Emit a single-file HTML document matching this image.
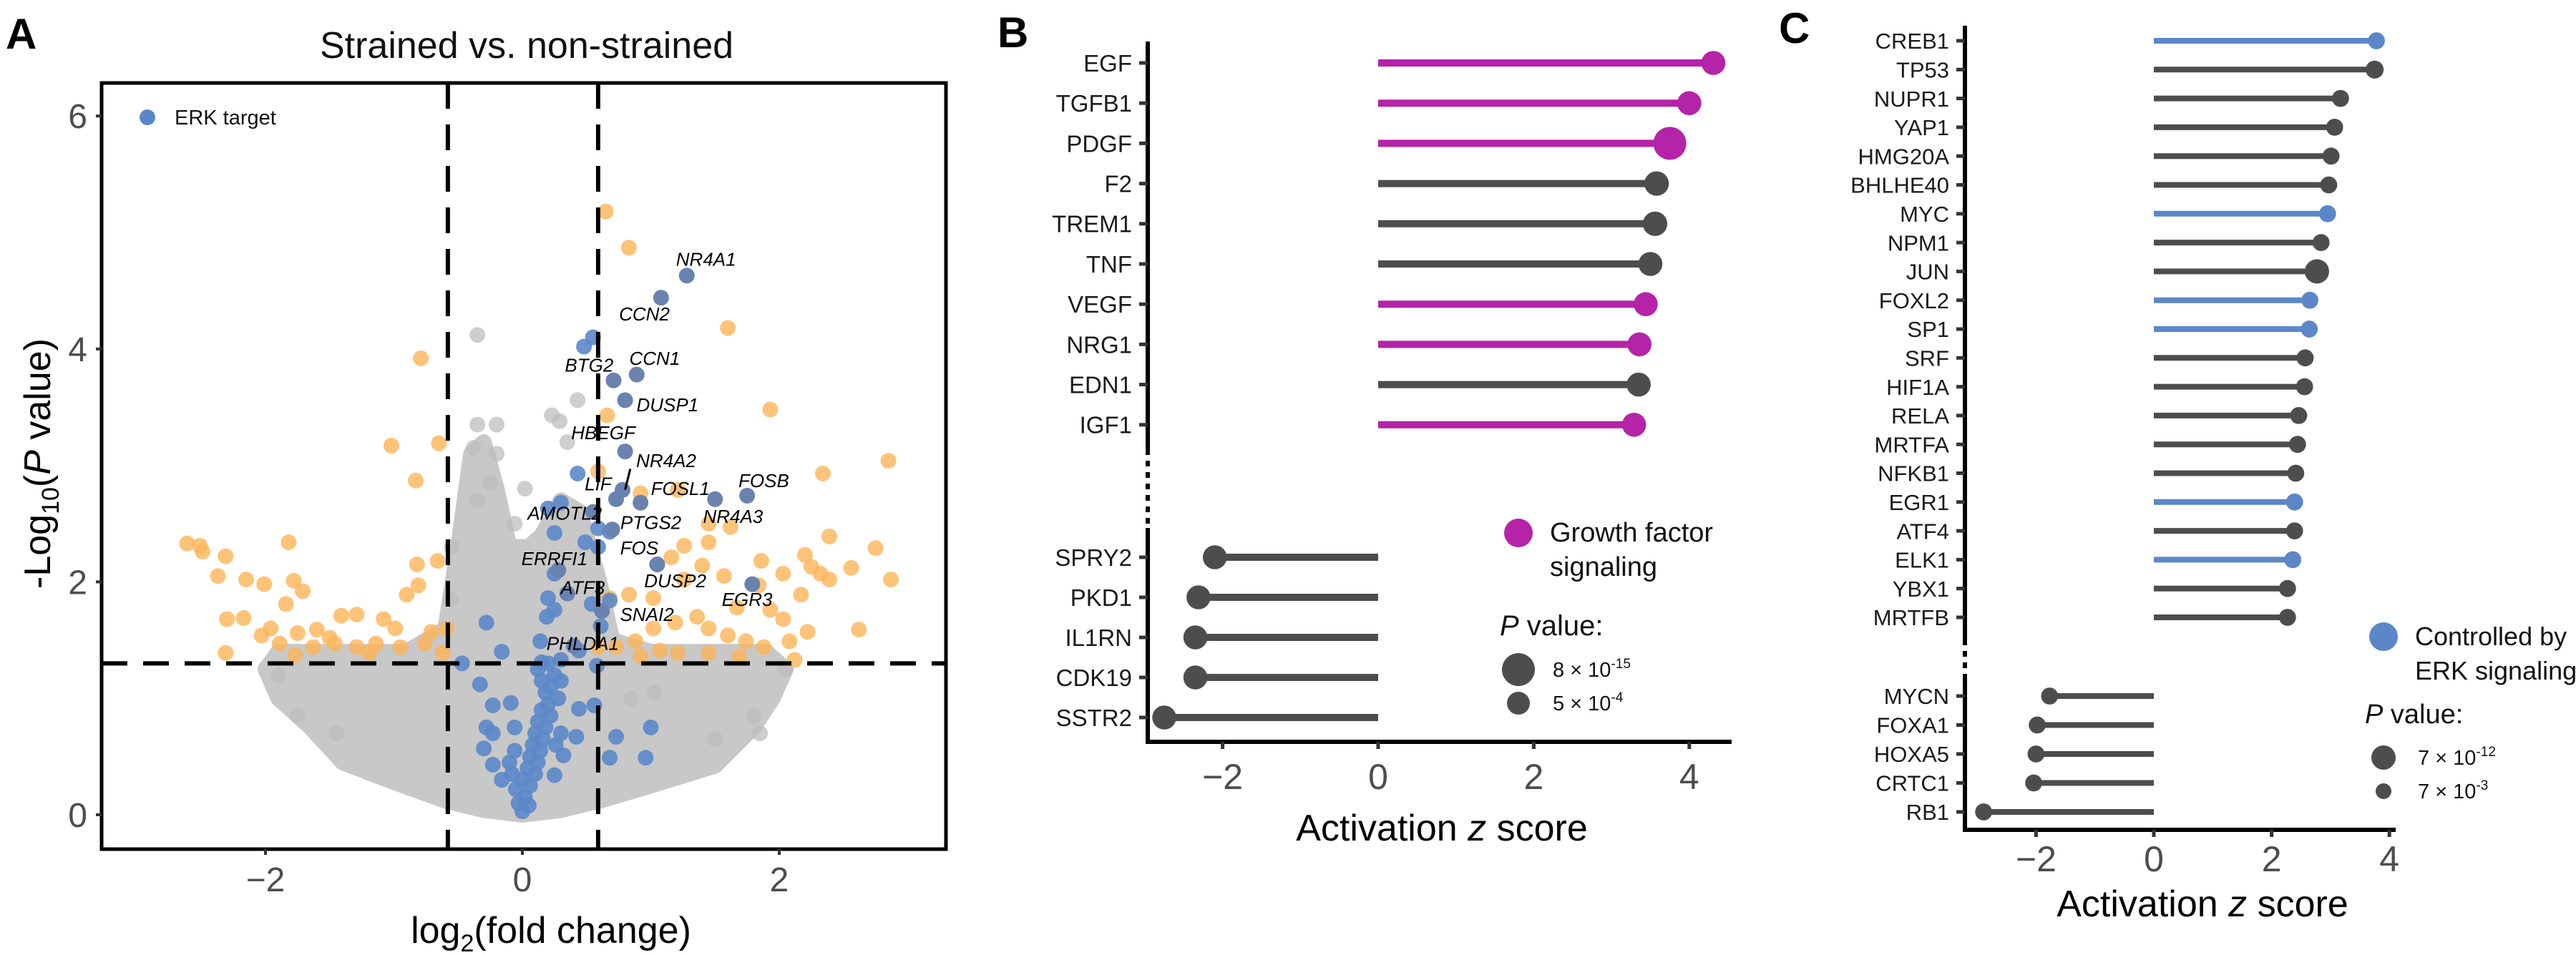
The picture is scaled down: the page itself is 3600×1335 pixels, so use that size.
<!DOCTYPE html>
<html><head><meta charset="utf-8"><style>
html,body{margin:0;padding:0;background:#fff;}
svg{display:block;font-family:"Liberation Sans",Arial,sans-serif;}
</style></head><body>
<svg id="fig" width="3600" height="1335" viewBox="0 0 3600 1335" xmlns="http://www.w3.org/2000/svg">
<g id="pa"></g>
<g id="pb"></g>
<g id="pc"></g>
</svg>
<script>
// ===== Panel A data =====
const aXTicks = [-2, 0, 2];
const aYTicks = [0, 2, 4, 6];
const aThreshX = [-0.58, 0.59];
const aThreshY = [1.3];
const greyCloudX = [-2.0,-1.9,-1.65,-1.4,-1.0,-0.6,-0.3,0,0.3,0.6,1.0,1.5,1.8,1.95,2.05,1.9,1.0,0.7,0.6,0.45,0.3,0.15,0.05,-0.1,-0.2,-0.3,-0.4,-0.5,-0.6,-0.9,-1.9];
const greyCloudY = [1.25,1.0,0.75,0.45,0.28,0.12,0.04,0.0,0.04,0.12,0.25,0.42,0.75,1.0,1.25,1.4,1.4,1.5,2.0,2.6,2.7,2.4,2.3,2.3,2.8,3.2,3.1,2.3,1.6,1.4,1.4];
const greyX = [-0.35,0.43,0.23,0.29,-0.2,-0.35,0.35,-0.38,-0.2,-0.25,0.27,-0.35,0.02,-0.06,0.85,1.85,1.03,-1.75,-1.45,1.5,-0.56,-0.55,2.05,-1.9,1.8];
const greyY = [4.12,3.56,3.43,3.38,3.35,3.35,3.2,3.15,3.1,2.85,2.6,2.7,2.8,2.5,1.0,0.7,1.05,0.85,0.7,0.65,1.85,2.3,1.25,1.2,0.85];
const orangeX = [0.65,0.83,1.60,-0.79,1.93,0.66,-1.02,-0.65,2.85,0.59,2.34,-0.83,0.92,1.21,1.45,1.62,1.45,2.39,2.75,2.2,1.86,1.26,1.16,1.40,2.25,2.32,2.56,2.87,2.39,2.03,1.57,1.84,1.26,1.02,0.83,0.68,2.17,1.93,2.03,1.67,1.36,1.19,1.02,0.88,0.73,1.45,1.60,1.74,1.88,2.08,2.22,2.62,2.12,1.21,1.07,1.69,1.45,0.92,0.59,
 -2.61,-2.51,-2.49,-2.31,-1.82,-2.37,-2.15,-2.01,-1.78,-1.71,-1.84,-2.30,-2.17,-1.41,-1.29,-1.08,-0.90,-0.81,-0.82,-0.66,-0.99,-0.71,-0.59,-1.96,-1.75,-1.60,-1.50,-1.89,-2.03,-2.31,-1.77,-1.63,-1.46,-1.29,-1.14,-0.95,-0.76,-1.19,-0.62];
const orangeY = [5.18,4.87,4.18,3.92,3.48,3.43,3.17,3.19,3.04,2.95,2.93,2.87,2.76,2.79,2.50,2.47,2.34,2.39,2.29,2.23,2.18,2.31,2.21,2.14,2.13,2.07,2.12,2.02,2.02,2.07,2.05,1.97,2.02,1.86,1.89,1.86,1.89,1.76,1.68,1.78,1.70,1.65,1.60,1.49,1.44,1.60,1.54,1.49,1.44,1.49,1.57,1.59,1.33,1.39,1.41,1.36,1.39,1.36,1.44,
 2.33,2.31,2.26,2.22,2.34,2.05,2.02,1.98,2.01,1.92,1.81,1.68,1.69,1.71,1.72,1.68,1.89,1.97,2.15,2.18,1.60,1.57,1.60,1.60,1.56,1.59,1.52,1.47,1.54,1.39,1.37,1.44,1.47,1.44,1.47,1.44,1.47,1.39,1.39];
const blueX = [0.55,0.48,0.43,0.30,0.20,0.59,0.68,0.25,0.49,0.59,0.25,0.68,0.54,0.20,0.25,0.19,0.61,-0.28,0.14,-0.16,-0.47,0.44,0.30,0.15,0.58,
 -0.33,-0.23,-0.09,0.44,0.56,-0.28,-0.06,-0.23,0.30,0.42,0.73,1.0,0.68,0.96,-0.30,0.32,-0.23,0.25,-0.16,
 0.12,0.15,0.18,0.2,0.15,0.22,0.12,0.18,0.1,0.16,0.08,0.14,0.06,0.12,0.04,0.1,0.0,0.06,-0.05,0.02,-0.03,0.05,0.0,-0.08,-0.1,0.25,0.22,0.28,0.3,0.2,-0.06,0.26];
const blueY = [4.10,4.02,2.93,2.68,2.63,2.46,2.43,2.42,2.34,2.30,2.07,1.84,1.81,1.86,1.76,1.70,1.62,1.65,1.49,1.40,1.30,1.41,1.33,1.31,1.28,
 1.12,0.94,0.96,0.91,0.94,0.75,0.75,0.70,0.70,0.67,0.67,0.75,0.49,0.49,0.57,0.51,0.43,0.34,0.30,
 1.25,1.15,1.05,0.95,0.9,0.85,0.8,0.75,0.7,0.65,0.6,0.55,0.5,0.45,0.4,0.35,0.3,0.25,0.22,0.15,0.1,0.08,0.03,0.35,0.45,1.2,1.1,1.0,1.15,1.3,0.55,0.6];
const labGenes = ["NR4A1","CCN2","BTG2","CCN1","DUSP1","HBEGF","NR4A2","LIF","FOSL1","FOSB","AMOTL2","PTGS2","NR4A3","FOS","ERRFI1","DUSP2","ATF3","EGR3","SNAI2","PHLDA1"];
const labPtX = [1.28,1.08,0.71,0.89,0.80,0.80,0.78,0.73,0.92,1.75,0.55,0.70,1.50,1.05,0.28,1.05,0.35,1.79,0.62,0.40];
const labPtY = [4.63,4.44,3.73,3.78,3.56,3.12,2.79,2.71,2.68,2.74,2.60,2.45,2.71,2.15,2.10,2.15,1.90,1.98,1.75,1.45];
const labX = [1.43,0.95,0.52,1.03,1.13,0.63,1.12,0.59,1.23,1.88,0.33,1.0,1.64,0.91,0.25,1.19,0.47,1.75,0.97,0.47];
const labY = [4.77,4.30,3.86,3.92,3.52,3.28,3.04,2.84,2.80,2.87,2.59,2.51,2.56,2.29,2.20,2.01,1.95,1.85,1.72,1.47];

// ===== Panel B data =====
const bUpGenes = ["EGF","TGFB1","PDGF","F2","TREM1","TNF","VEGF","NRG1","EDN1","IGF1"];
const bUpZ = [4.31,4.0,3.75,3.58,3.56,3.5,3.44,3.36,3.35,3.29];
const bUpLogP = [4.5,4.5,14.1,5,5,4.5,4.5,4.5,4.5,4.5];
const bUpGF = [1,1,1,0,0,0,1,1,0,1];
const bDnGenes = ["SPRY2","PKD1","IL1RN","CDK19","SSTR2"];
const bDnZ = [-2.1,-2.31,-2.35,-2.35,-2.75];
const bDnLogP = [4.5,4.5,4.5,4.5,4.5];
const bXTicks = [-2,0,2,4];
const bLegP = ["8 × 10", "5 × 10"], bLegExp = ["-15","-4"], bLegLogP = [14.1, 3.3];

// ===== Panel C data =====
const cUpGenes = ["CREB1","TP53","NUPR1","YAP1","HMG20A","BHLHE40","MYC","NPM1","JUN","FOXL2","SP1","SRF","HIF1A","RELA","MRTFA","NFKB1","EGR1","ATF4","ELK1","YBX1","MRTFB"];
const cUpZ = [3.78,3.75,3.17,3.07,3.01,2.97,2.95,2.84,2.77,2.65,2.64,2.57,2.56,2.46,2.44,2.41,2.39,2.39,2.36,2.27,2.27];
const cUpLogP = [3.5,4.5,3.5,3.5,3.5,3.5,3.5,3.5,11.15,3.5,3.5,3.5,3.5,3.5,3.5,3.5,3.5,3.5,3.5,3.5,3.5];
const cUpERK = [1,0,0,0,0,0,1,0,0,1,1,0,0,0,0,0,1,0,1,0,0];
const cDnGenes = ["MYCN","FOXA1","HOXA5","CRTC1","RB1"];
const cDnZ = [-1.77,-1.98,-2.0,-2.04,-2.89];
const cDnLogP = [3.5,3.5,3.5,3.5,3.5];
const cXTicks = [-2,0,2,4];
const cLegP = ["7 × 10","7 × 10"], cLegExp = ["-12","-3"], cLegLogP = [11.15, 2.15];

const NS="http://www.w3.org/2000/svg";
function mk(parent, tag, attrs, text){
  const e=document.createElementNS(NS,tag);
  for(const k in attrs) e.setAttribute(k,attrs[k]);
  if(text!==undefined) e.textContent=text;
  parent.appendChild(e); return e;
}
const GREY="#4d4d4d", MAG="#b523a8", BLUE="#5b87c9";

// ===== Panel A =====
(function(){
  const g=document.getElementById('pa');
  const L=142,R=1322,T=116,B=1187;
  const xs=v=>730+v*179.5, ys=v=>1139-v*162.8;
  let t;
  t=mk(g,'text',{x:8,y:68,'font-size':60,'font-weight':'bold',fill:'#000'},'A');
  
  t=mk(g,'text',{x:736,y:81,'font-size':52,'text-anchor':'middle',fill:'#111'},'Strained vs. non-strained');
  
  const clip=mk(g,'clipPath',{id:'clipA'}); mk(clip,'rect',{x:L,y:T,width:R-L,height:B-T});
  const pg=mk(g,'g',{'clip-path':'url(#clipA)'});
  
  const pts=greyCloudX.map((v,i)=>xs(v)+','+ys(greyCloudY[i])).join(' ');
  t=mk(pg,'polygon',{points:pts,fill:'#c8c8c8',stroke:'#c8c8c8','stroke-width':22,'stroke-linejoin':'round'});
  
  greyX.forEach((v,i)=>{const c=mk(pg,'circle',{cx:xs(v),cy:ys(greyY[i]),r:11,fill:'#bdbdbd','fill-opacity':0.75});
    });
  orangeX.forEach((v,i)=>{const c=mk(pg,'circle',{cx:xs(v),cy:ys(orangeY[i]),r:11,fill:'#fdb457','fill-opacity':0.8});
    });
  blueX.forEach((v,i)=>{const c=mk(pg,'circle',{cx:xs(v),cy:ys(blueY[i]),r:11,fill:BLUE,'fill-opacity':0.9});
    });
  labPtX.forEach((v,i)=>{const c=mk(pg,'circle',{cx:xs(v),cy:ys(labPtY[i]),r:11,fill:'#6a82b0'});
    });
  aThreshX.forEach(v=>{const l=mk(pg,'line',{x1:xs(v),x2:xs(v),y1:T,y2:B,stroke:'#000','stroke-width':6,'stroke-dasharray':'36,22'});
    });
  aThreshY.forEach(v=>{const l=mk(pg,'line',{x1:L,x2:R,y1:ys(v),y2:ys(v),stroke:'#000','stroke-width':6,'stroke-dasharray':'36,22'});
    });
  const l2=mk(pg,'line',{x1:xs(0.80),y1:ys(2.79),x2:xs(0.84),y2:ys(2.97),stroke:'#000','stroke-width':3});
  
  labGenes.forEach((s,i)=>{const tx=mk(pg,'text',{x:xs(labX[i]),y:ys(labY[i])+9,'font-size':26,'font-style':'italic','text-anchor':'middle',fill:'#000'},s);
    });
  t=mk(g,'rect',{x:L,y:T,width:R-L,height:B-T,fill:'none',stroke:'#000','stroke-width':5});
  
  aXTicks.forEach(v=>{mk(g,'line',{x1:xs(v),x2:xs(v),y1:B,y2:B+8,stroke:'#333','stroke-width':4});
    const tx=mk(g,'text',{x:xs(v),y:1246,'font-size':48,'text-anchor':'middle',fill:GREY},v<0?'−'+(-v):String(v));
    });
  aYTicks.forEach(v=>{mk(g,'line',{x1:L-8,x2:L,y1:ys(v),y2:ys(v),stroke:'#333','stroke-width':4});
    const tx=mk(g,'text',{x:122,y:ys(v)+17,'font-size':48,'text-anchor':'end',fill:GREY},String(v));
    });
  t=mk(g,'text',{x:770,y:1318,'font-size':52,'text-anchor':'middle',fill:'#000'});
  t.innerHTML='log<tspan font-size="34" dy="12">2</tspan><tspan dy="-12">(fold change)</tspan>';
  
  t=mk(g,'text',{x:0,y:0,'font-size':52,'text-anchor':'middle',fill:'#000',transform:'translate(70,648) rotate(-90)'});
  t.innerHTML='-Log<tspan font-size="34" dy="12">10</tspan><tspan dy="-12">(</tspan><tspan font-style="italic">P</tspan> value)';
  
  const lg=mk(g,'g',{});
  mk(lg,'circle',{cx:206,cy:164,r:11,fill:BLUE});
  mk(lg,'text',{x:244,y:174,'font-size':29,fill:'#111'},'ERK target');
})();

// ===== Lollipop helper =====
function lollipop(g, cfg){
  const xs=v=>cfg.x0+v*cfg.unit;
  let t=mk(g,'text',{x:cfg.labX,y:cfg.labY,'font-size':60,'font-weight':'bold',fill:'#000'},cfg.letter);
  
  t=mk(g,'line',{x1:cfg.ax,x2:cfg.ax,y1:cfg.a1,y2:cfg.a2,stroke:'#000','stroke-width':6});
  
  t=mk(g,'line',{x1:cfg.ax,x2:cfg.ax,y1:cfg.a2,y2:cfg.a3,stroke:'#000','stroke-width':6,'stroke-dasharray':'8,8'});
  
  t=mk(g,'line',{x1:cfg.ax,x2:cfg.ax,y1:cfg.a3,y2:cfg.xb+3,stroke:'#000','stroke-width':6});
  
  t=mk(g,'line',{x1:cfg.ax-3,x2:cfg.xr,y1:cfg.xb,y2:cfg.xb,stroke:'#000','stroke-width':6});
  
  const rows=[];
  cfg.up.forEach((s,i)=>rows.push({s,z:cfg.upZ[i],p:cfg.upP[i],c:cfg.upC[i],y:cfg.y0+i*cfg.dy}));
  cfg.dn.forEach((s,i)=>rows.push({s,z:cfg.dnZ[i],p:cfg.dnP[i],c:0,y:cfg.y1+i*cfg.dy2}));
  rows.forEach(r=>{
    const col=r.c?cfg.hl:GREY;
    mk(g,'line',{x1:cfg.ax-12,x2:cfg.ax,y1:r.y,y2:r.y,stroke:'#333','stroke-width':5});
    const lb=mk(g,'text',{x:cfg.ax-22,y:r.y+cfg.fs*0.36,'font-size':cfg.fs,'text-anchor':'end',fill:'#1a1a1a'},r.s);
    
    const ln=mk(g,'line',{x1:xs(0),x2:xs(r.z),y1:r.y,y2:r.y,stroke:col,'stroke-width':cfg.lw});
    
    const c=mk(g,'circle',{cx:xs(r.z),cy:r.y,r:cfg.rad(r.p),fill:col});
    
  });
  cfg.ticks.forEach(v=>{mk(g,'line',{x1:xs(v),x2:xs(v),y1:cfg.xb,y2:cfg.xb+10,stroke:'#333','stroke-width':5});
    const tx=mk(g,'text',{x:xs(v),y:cfg.tickY,'font-size':50,'text-anchor':'middle',fill:GREY},v<0?'−'+(-v):String(v));
    });
  t=mk(g,'text',{x:cfg.titleX,y:cfg.titleY,'font-size':52,'text-anchor':'middle',fill:'#000'});
  t.innerHTML='Activation <tspan font-style="italic">z</tspan> score';
  
  const lg=mk(g,'g',{});
  mk(lg,'circle',{cx:cfg.legX,cy:cfg.legY,r:20,fill:cfg.hl});
  mk(lg,'text',{x:cfg.legX+44,y:cfg.legY+12,'font-size':cfg.lfs,fill:'#111'},cfg.leg1);
  mk(lg,'text',{x:cfg.legX+44,y:cfg.legY+60,'font-size':cfg.lfs,fill:'#111'},cfg.leg2);
  const pt=mk(lg,'text',{x:cfg.legX-26,y:cfg.pY,'font-size':cfg.lfs+2,fill:'#111'});
  pt.innerHTML='<tspan font-style="italic">P</tspan> value:';
  cfg.legLogP.forEach((v,i)=>{
    const yy=cfg.pY+48+i*47;
    mk(lg,'circle',{cx:cfg.legX,cy:yy,r:cfg.rad(v),fill:GREY});
    const tx=mk(lg,'text',{x:cfg.legX+48,y:yy+10,'font-size':29,fill:'#111'});
    tx.innerHTML=cfg.legP[i]+'<tspan font-size="19" dy="-12">'+cfg.legExp[i]+'</tspan>';
  });
}

lollipop(document.getElementById('pb'),{
  letter:'B',labX:1394,labY:66,x0:1926,unit:108.7,ax:1604,a1:58,a2:628,a3:738,xb:1037,xr:2420,
  y0:88,dy:56.2,y1:779,dy2:56,up:bUpGenes,upZ:bUpZ,upP:bUpLogP,upC:bUpGF,dn:bDnGenes,dnZ:bDnZ,dnP:bDnLogP,
  hl:MAG,lw:10,fs:33,rad:v=>16+(v-3.3)*0.65,ticks:bXTicks,tickY:1103,titleX:2015,titleY:1175,
  legX:2122,legY:745,leg1:'Growth factor',leg2:'signaling',lfs:38,pY:888,legP:bLegP,legExp:bLegExp,legLogP:bLegLogP
});
lollipop(document.getElementById('pc'),{
  letter:'C',labX:2486,labY:60,x0:3010,unit:82.3,ax:2746,a1:36,a2:894,a3:942,xb:1160,xr:3348,
  y0:57,dy:40.3,y1:973,dy2:40.5,up:cUpGenes,upZ:cUpZ,upP:cUpLogP,upC:cUpERK,dn:cDnGenes,dnZ:cDnZ,dnP:cDnLogP,
  hl:BLUE,lw:8,fs:31,rad:v=>11+(v-2.15)*0.667,ticks:cXTicks,tickY:1218,titleX:3078,titleY:1281,
  legX:3331,legY:890,leg1:'Controlled by',leg2:'ERK signaling',lfs:36,pY:1011,legP:cLegP,legExp:cLegExp,legLogP:cLegLogP
});
</script>
</body></html>
